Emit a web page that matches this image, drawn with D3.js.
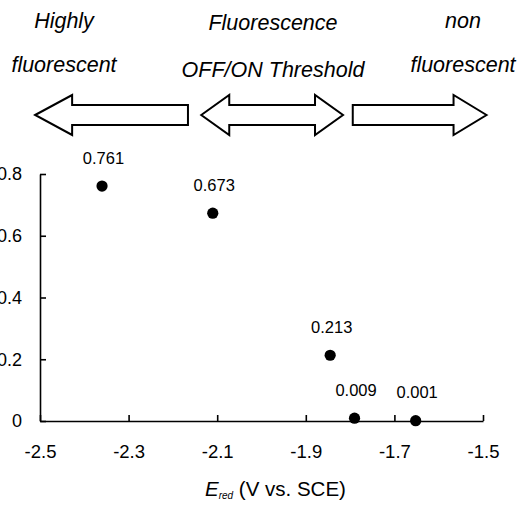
<!DOCTYPE html>
<html>
<head>
<meta charset="utf-8">
<script src="https://cdn.jsdelivr.net/npm/d3@7"></script>
<style>
  html, body { margin: 0; padding: 0; background: #fff; }
  svg { display: block; font-family: "Liberation Sans", Arial, Helvetica, sans-serif; }
</style>
</head>
<body>
<svg id="chart" width="519" height="509"></svg>
<script>
// ---- data ----
const eRed = [-2.36, -2.11, -1.845, -1.79, -1.652];
const quantumYield = [0.761, 0.673, 0.213, 0.009, 0.001];
const pointLabels = ["0.761", "0.673", "0.213", "0.009", "0.001"];
const xTicks = [-2.5, -2.3, -2.1, -1.9, -1.7, -1.5];
const yTicks = [0, 0.2, 0.4, 0.6, 0.8];
const regionTopLines = ["Highly", "Fluorescence", "non"];
const regionBottomLines = ["fluorescent", "OFF/ON Threshold", "fluorescent"];
// arrows along the E axis: [from, to] in V, and direction type
const arrowSpans = [[-2.511, -2.166], [-2.136, -1.816], [-1.794, -1.492]];
const arrowKinds = ["left", "both", "right"];

// ---- layout ----
const svg = d3.select("#chart");
const x = d3.scaleLinear().domain([-2.5, -1.5]).range([40, 483]);
const y = d3.scaleLinear().domain([0, 0.8]).range([421, 174]);

// x axis
const xAxis = d3.axisBottom(x).tickValues(xTicks).tickSizeInner(-6).tickSizeOuter(0)
  .tickFormat(d => d.toFixed(1));
const gx = svg.append("g").attr("transform", `translate(0,${y(0)})`).call(xAxis);
gx.select(".domain").attr("stroke", "#000").attr("stroke-width", 1.6);
gx.selectAll(".tick line").attr("stroke", "#000").attr("stroke-width", 1.6);
gx.selectAll(".tick text").attr("y", 36.5).attr("dy", null)
  .attr("font-size", 18.5).attr("fill", "#000");

// y axis
const yAxis = d3.axisLeft(y).tickValues(yTicks).tickSizeInner(-6).tickSizeOuter(0)
  .tickFormat(d => d === 0 ? "0" : d.toFixed(1));
const gy = svg.append("g").attr("transform", `translate(${x(-2.5)},0)`).call(yAxis);
gy.select(".domain").attr("stroke", "#000").attr("stroke-width", 1.6);
gy.selectAll(".tick line").attr("stroke", "#000").attr("stroke-width", 1.6);
gy.selectAll(".tick text").attr("x", -18).attr("font-size", 18).attr("fill", "#000");

// points
const pts = eRed.map((e, i) => ({ e, q: quantumYield[i], label: pointLabels[i] }));
svg.append("g").selectAll("circle").data(pts).join("circle")
  .attr("cx", d => x(d.e)).attr("cy", d => y(d.q)).attr("r", 5.6).attr("fill", "#000");
svg.append("g").selectAll("text").data(pts).join("text")
  .attr("x", d => x(d.e) + 1.5).attr("y", d => y(d.q) - 22.5)
  .attr("text-anchor", "middle").attr("font-size", 16.5).attr("fill", "#000")
  .text(d => d.label);

// axis title
const title = svg.append("text").attr("x", 205).attr("y", 496)
  .attr("font-size", 20.5).attr("fill", "#000");
title.append("tspan").attr("font-style", "italic").text("E");
title.append("tspan").attr("font-style", "italic").attr("font-size", 10).attr("dy", 3).text("red");
title.append("tspan").attr("dy", -3).text(" (V vs. SCE)");

// region texts
const centers = [64, 273, 463];
const topY = [27.5, 29.5, 27.5];
const botY = [72, 77, 72];
svg.append("g").selectAll("text").data(regionTopLines).join("text")
  .attr("x", (d, i) => centers[i]).attr("y", (d, i) => topY[i])
  .attr("text-anchor", "middle").attr("font-style", "italic").attr("font-size", 21.5)
  .attr("fill", "#000").text(d => d);
svg.append("g").selectAll("text").data(regionBottomLines).join("text")
  .attr("x", (d, i) => centers[i]).attr("y", (d, i) => botY[i])
  .attr("text-anchor", "middle").attr("font-style", "italic").attr("font-size", 21.5)
  .attr("fill", "#000").text(d => d);

// arrows
const cy = 115, shaft = 10, head = 20;
function arrowPath(span, kind) {
  const a = x(span[0]), b = x(span[1]);
  const hl = kind === "both" ? 28 : (kind === "left" ? 37 : 33);
  const p = d3.path();
  if (kind === "left") {
    p.moveTo(a, cy); p.lineTo(a + hl, cy - head); p.lineTo(a + hl, cy - shaft);
    p.lineTo(b, cy - shaft); p.lineTo(b, cy + shaft); p.lineTo(a + hl, cy + shaft);
    p.lineTo(a + hl, cy + head); p.closePath();
  } else if (kind === "right") {
    p.moveTo(b, cy); p.lineTo(b - hl, cy - head); p.lineTo(b - hl, cy - shaft);
    p.lineTo(a, cy - shaft); p.lineTo(a, cy + shaft); p.lineTo(b - hl, cy + shaft);
    p.lineTo(b - hl, cy + head); p.closePath();
  } else {
    p.moveTo(a, cy); p.lineTo(a + hl, cy - head); p.lineTo(a + hl, cy - shaft);
    p.lineTo(b - hl, cy - shaft); p.lineTo(b - hl, cy - head); p.lineTo(b, cy);
    p.lineTo(b - hl, cy + head); p.lineTo(b - hl, cy + shaft); p.lineTo(a + hl, cy + shaft);
    p.lineTo(a + hl, cy + head); p.closePath();
  }
  return p.toString();
}
svg.append("g").selectAll("path").data(arrowSpans).join("path")
  .attr("d", (d, i) => arrowPath(d, arrowKinds[i]))
  .attr("fill", "#fff").attr("stroke", "#000").attr("stroke-width", 2)
  .attr("stroke-linejoin", "miter");
</script>
</body>
</html>
